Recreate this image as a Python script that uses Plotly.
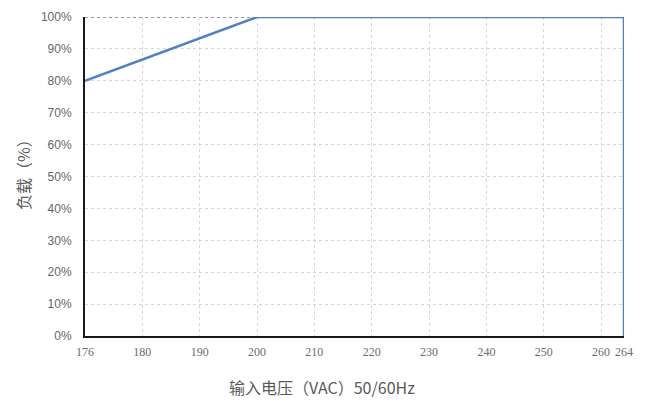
import plotly.graph_objects as go

# Data
voltage = [176, 200, 264, 264]          # VAC
load_pct = [80, 100, 100, 0]            # %
x_tick_labels = [176, 180, 190, 200, 210, 220, 230, 240, 250, 260, 264]
y_ticks = [0, 10, 20, 30, 40, 50, 60, 70, 80, 90, 100]
x_title = "输入电压（VAC）50/60Hz"
y_title = "负载（%）"


def axis_pos(v):
    # In the original chart the first interval (176-180) is drawn as wide as a
    # full 10 V interval; map values below 180 accordingly.
    return v if v >= 180 else 180 - (180 - v) * 10 / 4


x_pos = [axis_pos(v) for v in voltage]
tick_pos = [axis_pos(v) for v in x_tick_labels]

fig = go.Figure()
fig.add_trace(go.Scatter(
    x=x_pos, y=load_pct, mode="lines",
    line=dict(color="#4f81bd", width=2.5),
    showlegend=False, cliponaxis=False,
))

# black dotted top border
fig.add_shape(type="line", xref="paper", yref="y", x0=0, x1=1, y0=100, y1=100,
              line=dict(color="#333333", width=1.2, dash="dot"), layer="below")

xtickfont = dict(family="Liberation Serif, serif", size=12, color="#6b6b6b")
ytickfont = dict(family="Liberation Sans Narrow, Liberation Sans, sans-serif", size=12, color="#666666")
titlefont = dict(family="Noto Sans CJK SC", size=16, color="#595959")

fig.add_annotation(text=x_title, xref="paper", yref="paper", x=0.44, y=0,
                   yshift=-51, xanchor="center", yanchor="middle",
                   showarrow=False, font=titlefont)
fig.add_annotation(text=y_title, xref="paper", yref="paper", x=-0.115, y=0.517,
                   xanchor="center", yanchor="middle", textangle=-90,
                   showarrow=False, font=titlefont)

fig.update_layout(
    width=659, height=401,
    margin=dict(l=77, r=43, t=9, b=73),
    paper_bgcolor="white", plot_bgcolor="white",
    xaxis=dict(
        range=[tick_pos[0], tick_pos[-1]],
        tickvals=tick_pos, ticktext=[str(t) for t in x_tick_labels],
        tickfont=xtickfont, ticklabelstandoff=4, automargin=False,
        showgrid=True, gridcolor="#d6d6d6", griddash="3px,3px", gridwidth=1,
        showline=True, linecolor="#1a1a1a", linewidth=2,
        zeroline=False, ticks="", ticklen=0,
    ),
    yaxis=dict(
        range=[0, 100],
        tickvals=y_ticks, ticktext=[f"{v}%" for v in y_ticks],
        tickfont=ytickfont, ticklabelstandoff=9, automargin=False,
        showgrid=True, gridcolor="#d6d6d6", griddash="3px,3px", gridwidth=1,
        showline=True, linecolor="#1a1a1a", linewidth=2,
        zeroline=False, ticks="", ticklen=0,
    ),
)

fig.write_html("out.html")
